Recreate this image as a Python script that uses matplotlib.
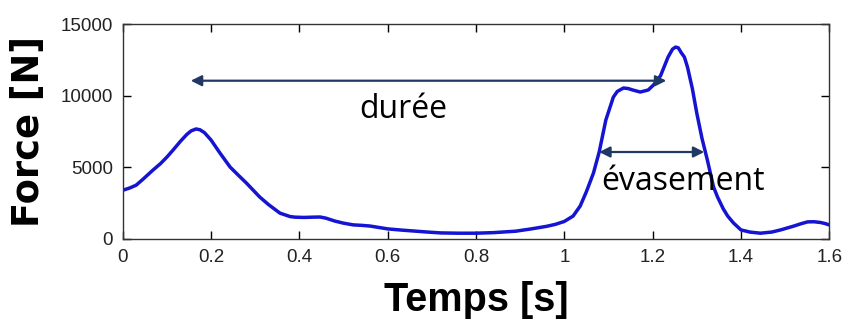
import matplotlib
matplotlib.use("Agg")
import matplotlib.pyplot as plt

# force profile
temps = [0.00, 0.015, 0.03, 0.045, 0.068, 0.085, 0.10, 0.115, 0.13, 0.145,
         0.155, 0.166, 0.175, 0.185, 0.20, 0.22, 0.243, 0.26, 0.28, 0.31,
         0.33, 0.356, 0.379, 0.39, 0.41, 0.43, 0.447, 0.46, 0.48, 0.50,
         0.522, 0.54, 0.56, 0.58, 0.60, 0.63, 0.66, 0.69, 0.72, 0.76,
         0.80, 0.84, 0.86, 0.89, 0.925, 0.96, 0.98, 1.00, 1.02, 1.036,
         1.05, 1.066, 1.079, 1.094, 1.111, 1.12, 1.134, 1.145, 1.155, 1.172,
         1.19, 1.202, 1.218, 1.235, 1.245, 1.252, 1.258, 1.265, 1.272, 1.279,
         1.29, 1.30, 1.312, 1.324, 1.338, 1.347, 1.36, 1.37, 1.383, 1.40,
         1.42, 1.444, 1.47, 1.49, 1.52, 1.535, 1.551, 1.565, 1.58, 1.59,
         1.60]
force = [3400, 3550, 3750, 4150, 4800, 5250, 5720, 6250, 6800, 7300,
         7550, 7680, 7620, 7420, 6900, 6000, 5020, 4500, 3900, 2930,
         2400, 1800, 1560, 1520, 1500, 1520, 1530, 1450, 1250, 1100,
         980, 950, 900, 800, 700, 620, 550, 480, 420, 400,
         400, 440, 480, 540, 700, 880, 1020, 1220, 1600, 2300,
         3300, 4600, 6070, 8300, 9900, 10300, 10540, 10500, 10400, 10260,
         10400, 10750, 11400, 12700, 13250, 13400, 13350, 13000, 12700, 12000,
         10500, 8790, 7000, 5510, 3630, 2930, 2100, 1600, 1120, 630,
         480, 400, 480, 630, 900, 1050, 1190, 1200, 1150, 1080,
         980]

xticks = [0, 0.2, 0.4, 0.6, 0.8, 1.0, 1.2, 1.4, 1.6]
xticklabels = ["0", "0.2", "0.4", "0.6", "0.8", "1", "1.2", "1.4", "1.6"]
yticks = [0, 5000, 10000, 15000]

duree = (0.154, 1.231, 11050)
evasement = (1.079, 1.317, 6070)

fig = plt.figure(figsize=(8.47, 3.22), dpi=100)
ax = fig.add_axes([0.145, 0.258, 0.834, 0.667])

ax.plot(temps, force, color="#1414d2", linewidth=2.5)

arrow_col = "#1f3864"
for x0, x1, y in (duree, evasement):
    ax.annotate("", xy=(x0, y), xytext=(x1, y),
                arrowprops=dict(arrowstyle="<|-|>", color=arrow_col, lw=1.6,
                                mutation_scale=16, shrinkA=0, shrinkB=0))

ax.text(0.635, 8440, "durée", ha="center", va="baseline",
        fontsize=23, family="Open Sans", color="black")
ax.text(1.268, 3420, "évasement", ha="center", va="baseline",
        fontsize=23, family="Open Sans", color="black")

ax.set_xlim(0, 1.6)
ax.set_ylim(0, 15000)
ax.set_xticks(xticks)
ax.set_xticklabels(xticklabels)
ax.set_yticks(yticks)
ax.tick_params(direction="in", length=6, width=1, top=True, right=True,
               labelsize=13.5, labelcolor="#222222", pad=7)
for lab in ax.get_xticklabels() + ax.get_yticklabels():
    lab.set_family("Liberation Sans")
for s in ax.spines.values():
    s.set_linewidth(1.0)
    s.set_color("#333333")

ax.set_ylabel("Force [N]", fontsize=26.5, fontweight="bold",
              family="DejaVu Sans", labelpad=10)
ax.set_xlabel("Temps [s]", fontsize=28.5, fontweight="bold",
              family="Liberation Sans", labelpad=11)

fig.savefig("out.png", dpi=100)
